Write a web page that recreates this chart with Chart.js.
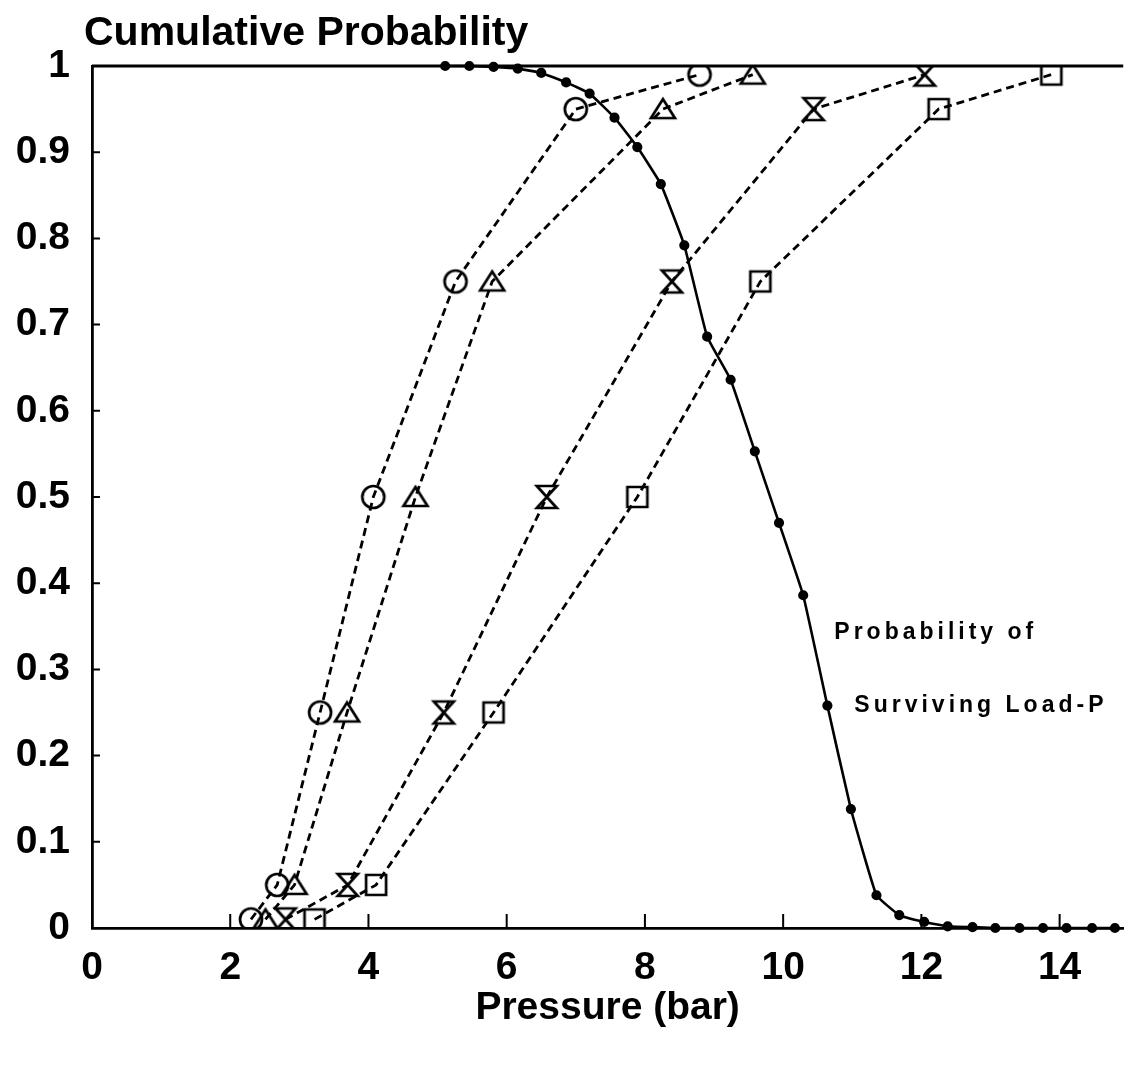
<!DOCTYPE html>
<html>
<head>
<meta charset="utf-8">
<script src="https://cdn.jsdelivr.net/npm/chart.js@4.4.1/dist/chart.umd.min.js"></script>
<style>
  html, body { margin: 0; padding: 0; background: #fff; }
  #wrap { width: 1138px; height: 1065px; }
</style>
</head>
<body>
<div id="wrap"><canvas id="cdf"></canvas></div>
<script>
// Cumulative probability levels shared by the four test series
const probLevels = [0.01, 0.05, 0.25, 0.5, 0.75, 0.95, 0.99];

// Pressure (bar) at each probability level
const circlePressure    = [2.30, 2.68, 3.30, 4.07, 5.26, 7.00, 8.79];
const trianglePressure  = [2.51, 2.93, 3.69, 4.68, 5.79, 8.26, 9.56];
const hourglassPressure = [2.80, 3.70, 5.09, 6.58, 8.39, 10.44, 12.05];
const squarePressure    = [3.22, 4.11, 5.81, 7.89, 9.67, 12.25, 13.88];

// Probability of surviving load P
const survivalPressure = [5.11, 5.46, 5.81, 6.16, 6.50, 6.86, 7.20, 7.56, 7.89, 8.23,
                          8.57, 8.90, 9.24, 9.59, 9.94, 10.29, 10.64, 10.98, 11.35, 11.68,
                          12.04, 12.38, 12.74, 13.07, 13.42, 13.76, 14.10, 14.47, 14.80];
const survivalProb     = [1.0, 1.0, 0.999, 0.997, 0.992, 0.981, 0.968, 0.940, 0.906, 0.863,
                          0.792, 0.686, 0.636, 0.553, 0.470, 0.386, 0.258, 0.138, 0.038, 0.015,
                          0.007, 0.002, 0.001, 0, 0, 0, 0, 0, 0];

const xTicks = [0, 2, 4, 6, 8, 10, 12, 14];
const yTicks = [0, 0.1, 0.2, 0.3, 0.4, 0.5, 0.6, 0.7, 0.8, 0.9, 1];
const yTitle = 'Cumulative Probability';
const xTitle = 'Pressure (bar)';
const noteLines = [
    { text: 'Probability of', x: 10.74, y: 0.343 },
    { text: 'Surviving Load-P', x: 11.03, y: 0.258 }
];

const FONT = '"Liberation Sans", Arial, sans-serif';

function pairs(xs, ys) {
    return xs.map((x, i) => ({ x: x, y: ys[i] }));
}

// Hollow marker glyphs, the dashed line shows through them like in the print
function makeMarker(kind) {
    const c = document.createElement('canvas');
    c.width = 30; c.height = 30;
    const g = c.getContext('2d');
    g.strokeStyle = '#000';
    g.lineWidth = 2.7;
    g.beginPath();
    if (kind === 'circle') {
        g.arc(15, 15, 11, 0, Math.PI * 2);
    } else if (kind === 'triangle') {
        g.moveTo(15, 5); g.lineTo(27, 24); g.lineTo(3, 24); g.closePath();
    } else if (kind === 'hourglass') {
        g.moveTo(5, 4); g.lineTo(25, 4); g.lineTo(5, 26); g.lineTo(25, 26); g.closePath();
    } else if (kind === 'square') {
        g.rect(5, 5, 20, 20);
    }
    g.stroke();
    return c;
}

function dashedSeries(xs, kind) {
    return {
        data: pairs(xs, probLevels),
        borderColor: '#000',
        borderWidth: 2.8,
        borderDash: [8, 5],
        pointStyle: makeMarker(kind),
        pointRadius: 12,
        pointHoverRadius: 12,
        fill: false,
        tension: 0
    };
}

// Frame top line, inward tick marks, title and note text
const decorations = {
    id: 'decorations',
    afterDraw(chart) {
        const { ctx, chartArea } = chart;
        const xs = chart.scales.x, ys = chart.scales.y;
        ctx.save();
        ctx.strokeStyle = '#000';
        ctx.lineWidth = 2.8;
        ctx.beginPath();
        ctx.moveTo(chartArea.left, chartArea.top);
        ctx.lineTo(chartArea.right, chartArea.top);
        ctx.stroke();

        ctx.lineWidth = 2;
        ctx.beginPath();
        xTicks.slice(1).forEach(v => {
            const px = xs.getPixelForValue(v);
            ctx.moveTo(px, chartArea.bottom);
            ctx.lineTo(px, chartArea.bottom - 14);
        });
        yTicks.slice(1, -1).forEach(v => {
            const py = ys.getPixelForValue(v);
            ctx.moveTo(chartArea.left, py);
            ctx.lineTo(chartArea.left + 8, py);
        });
        ctx.stroke();

        ctx.fillStyle = '#000';
        ctx.font = 'bold 41px ' + FONT;
        ctx.textBaseline = 'middle';
        ctx.textAlign = 'left';
        ctx.fillText(yTitle, chartArea.left - 8, 34);

        ctx.font = 'bold 23px ' + FONT;
        ctx.letterSpacing = '4px';
        noteLines.forEach(n => {
            ctx.fillText(n.text, xs.getPixelForValue(n.x), ys.getPixelForValue(n.y));
        });
        ctx.restore();
    }
};

new Chart(document.getElementById('cdf'), {
    type: 'line',
    data: {
        datasets: [
            dashedSeries(circlePressure, 'circle'),
            dashedSeries(trianglePressure, 'triangle'),
            dashedSeries(hourglassPressure, 'hourglass'),
            dashedSeries(squarePressure, 'square'),
            {
                data: pairs(survivalPressure, survivalProb),
                borderColor: '#000',
                backgroundColor: '#000',
                borderWidth: 2.6,
                pointStyle: 'circle',
                pointRadius: 3.8,
                fill: false,
                tension: 0.1,
                clip: false
            }
        ]
    },
    options: {
        responsive: true,
        maintainAspectRatio: false,
        animation: false,
        layout: { padding: { top: 66, right: 0, left: 0, bottom: 0 } },
        plugins: {
            legend: { display: false },
            tooltip: { enabled: false }
        },
        scales: {
            x: {
                type: 'linear',
                min: 0,
                max: 14.92,
                afterBuildTicks: scale => { scale.ticks = xTicks.map(v => ({ value: v })); },
                afterFit: scale => { scale.height = 137; },
                grid: { display: false, drawTicks: false },
                border: { display: true, color: '#000', width: 2.8 },
                ticks: {
                    color: '#000',
                    padding: 17,
                    maxRotation: 0,
                    font: { family: FONT, size: 39, weight: 'bold' }
                },
                title: {
                    display: true,
                    text: xTitle,
                    color: '#000',
                    padding: { top: 0, bottom: 33 },
                    font: { family: FONT, size: 39, weight: 'bold' }
                }
            },
            y: {
                min: 0,
                max: 1,
                afterBuildTicks: scale => { scale.ticks = yTicks.map(v => ({ value: v })); },
                afterFit: scale => { scale.width = 92; },
                grid: { display: false, drawTicks: false },
                border: { display: true, color: '#000', width: 2.8 },
                ticks: {
                    color: '#000',
                    padding: 22,
                    callback: v => String(+v.toFixed(1)),
                    font: { family: FONT, size: 39, weight: 'bold' }
                }
            }
        }
    },
    plugins: [decorations]
});
</script>
</body>
</html>
